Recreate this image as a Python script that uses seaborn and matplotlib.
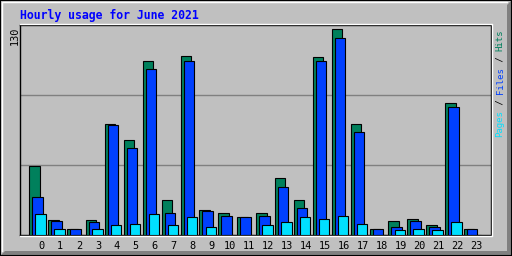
import matplotlib
matplotlib.use("Agg")
import matplotlib.pyplot as plt
import seaborn as sns
import numpy as np
import pandas as pd
from matplotlib.patches import Rectangle, Polygon
from matplotlib.lines import Line2D

hours = list(range(24))
hits  = [43, 9, 4, 9, 68.5, 59, 107.5, 21.5, 111, 15.3, 13.4, 11, 13.4, 35, 21.5, 110, 127.3, 68.5, 4, 8.7, 9.7, 6, 82, 4]
files = [23.5, 8.7, 4, 8, 68, 54, 103, 13.4, 107.5, 15, 11.6, 11, 11.6, 30, 16.5, 107.5, 121.8, 63.6, 4, 4.8, 8.5, 4.8, 79, 4]
pages = [13, 4, 0, 4, 6, 6.6, 12.8, 6, 11, 4.8, 0, 0, 6, 7.8, 11, 9.7, 11.6, 6.6, 0, 3, 4, 3, 7.8, 0]
title = "Hourly usage for June 2021"
ymax = 130

C_HITS, C_FILES, C_PAGES = "#00805C", "#0040FF", "#00E0FF"
BG = "#C0C0C0"

sns.set_theme(style="white")
plt.rcParams['font.family'] = ['DejaVu Sans Mono', 'DejaVu Sans']

W, H = 512, 256
fig = plt.figure(figsize=(W/100, H/100), dpi=100)
fig.patch.set_facecolor(BG)

# axes area in px
x0, x1, y0, y1 = 20, 491, 25, 235
ax = fig.add_axes([x0/W, 1 - y1/H, (x1-x0)/W, (y1-y0)/H])
ax.set_facecolor(BG)

df = pd.DataFrame({"hour": hours, "hits": hits, "files": files, "pages": pages})
lw = 0.8
for col, color, off in [("hits", C_HITS, -0.36), ("files", C_FILES, -0.20), ("pages", C_PAGES, -0.04)]:
    d = pd.DataFrame({"x": df["hour"] + off + 100, "y": df[col]})
    sns.barplot(data=d, x="x", y="y", native_scale=True, width=0.55, color=color,
                saturation=1, edgecolor="black", linewidth=lw, ax=ax, zorder=3, errorbar=None)

ax.set_xlim(100 - 1.13, 100 + 23.79)
ax.set_ylim(0, ymax)
for g in [ymax/3, 2*ymax/3]:
    ax.axhline(g, color="#808080", lw=1, zorder=1)

ax.set_xticks([h + 100 for h in hours])
ax.set_xticklabels([str(h) for h in hours], fontsize=7.4, color="black")
ax.tick_params(axis='x', length=0, pad=4)
ax.set_yticks([])
ax.set_xlabel("")
ax.set_ylabel("")
for s in ax.spines.values():
    s.set_color("black")
    s.set_linewidth(1)

def px(x, y):
    return x / W, 1 - y / H

# plot frame white highlight
fig.add_artist(Line2D([x0/W, (x1+1)/W], [1-(y0-1)/H]*2, color="white", lw=1))
fig.add_artist(Line2D([(x1+1)/W]*2, [1-(y0-1)/H, 1-(y1+1)/H], color="white", lw=1))
fig.add_artist(Line2D([x0/W, (x1+1)/W], [1-(y1+1)/H]*2, color="white", lw=1))

# outer 3D border: gray bevel right/bottom, white inner left/top, black outline
fig.add_artist(Polygon([px(0, 256), px(512, 256), px(512, 0), px(507, 5), px(507, 251), px(5, 251)],
                       closed=True, transform=fig.transFigure, facecolor="#808080", edgecolor="none"))
fig.add_artist(Line2D([1.5/W, 1.5/W], [5/H, 1-1.5/H], color="white", lw=1))
fig.add_artist(Line2D([1.5/W, 1-5/W], [1-1.5/H, 1-1.5/H], color="white", lw=1))
fig.add_artist(Rectangle((0, 0), 1, 1, transform=fig.transFigure, fill=False, edgecolor="black", lw=1.5))

# title
fig.text(*px(20, 15), title, color="#0000FF", fontsize=8.3, fontweight="bold",
         ha="left", va="center", family="DejaVu Sans Mono")

# max label
fig.text(*px(15, 27), str(ymax), rotation=90, ha="center", va="top", fontsize=7.4,
         color="black", family="DejaVu Sans Mono")

# right legend
segs = [("Pages", C_PAGES), (" / ", "black"), ("Files", C_FILES), (" / ", "black"), ("Hits", C_HITS)]
cw = 5.4
ybot = 137
idx = 0
for t, c in segs:
    fig.text(*px(500, ybot - idx * cw), t, rotation=90, ha="center", va="bottom",
             fontsize=6.5, color=c, family="DejaVu Sans Mono")
    idx += len(t)

fig.savefig("out.png", dpi=100, facecolor=BG)
